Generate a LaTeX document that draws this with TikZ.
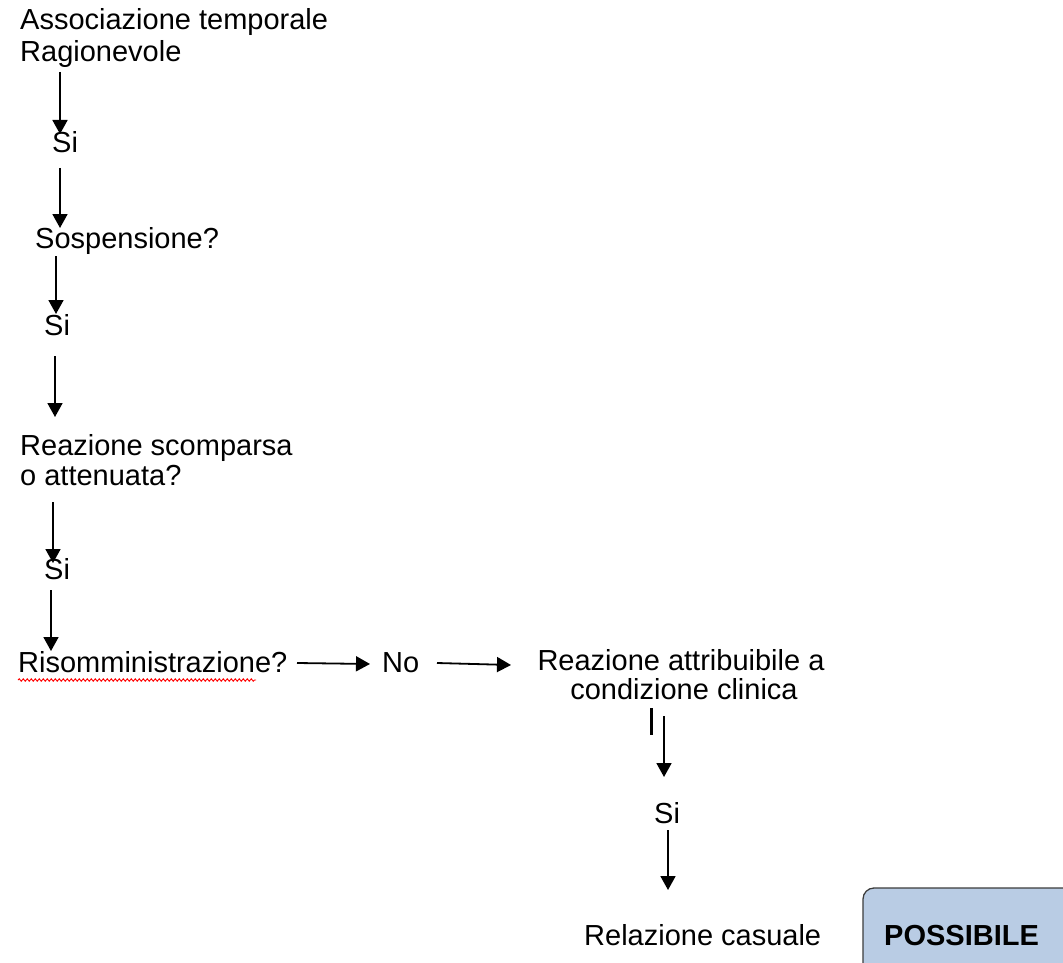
\documentclass[tikz,border=0pt]{standalone}
\usepackage{fontspec}
\setmainfont{Liberation Sans}
\usetikzlibrary{arrows.meta,decorations.pathmorphing}
\definecolor{boxblue}{RGB}{185,204,228}
\definecolor{boxline}{RGB}{60,60,60}
\begin{document}
\begin{tikzpicture}[x=1pt,y=-1pt,
  txt/.style={inner sep=0pt,font=\fontsize{29}{33}\selectfont},
  arr/.style={line width=1.8pt,-{Triangle[width=15pt,length=14pt]}},
  spell/.style={red,line width=0.9pt,decorate,decoration={snake,amplitude=1.2pt,segment length=4pt}}]
\useasboundingbox (0,0) rectangle (1063,963);
% texts
\node[txt,anchor=base west] (assoc1) at (20,30) {Associazione temporale};
\node[txt,anchor=base west] (assoc2) at (20,62) {Ragionevole};
\node[txt,anchor=base west] (si1) at (52,153) {Si};
\node[txt,anchor=base west] (sosp) at (35,248) {Sospensione?};
\node[txt,anchor=base west] (si2) at (44,335) {Si};
\node[txt,anchor=base west] (reaz1) at (20,455) {Reazione scomparsa};
\node[txt,anchor=base west] (reaz2) at (20,485) {o attenuata?};
\node[txt,anchor=base west] (si3) at (44,579) {Si};
\node[txt,anchor=base west] (risom) at (18,672) {Risomministrazione?};
\node[txt,anchor=base west] (no) at (382,672) {No};
\node[txt,anchor=base] (attr1) at (681,670) {Reazione attribuibile a};
\node[txt,anchor=base] (attr2) at (684,699) {condizione clinica};
\node[txt,anchor=base west] (si4) at (654,823) {Si};
\node[txt,anchor=base west] (rel) at (584,945) {Relazione casuale};
% box
\draw[boxline,fill=boxblue,line width=1.3pt,rounded corners=11pt] (863,888) rectangle (1085,985);
\node[txt,anchor=base west,font=\fontsize{29}{33}\selectfont\bfseries] (poss) at (884,945) {POSSIBILE};
% spell-check squiggle
\draw[spell] (18,680) -- (256,680);
% stray bar
\draw[line width=3pt] (651,708) -- (651,735);
% connector end points
\coordinate (a1s) at (60,72);   \coordinate (a1e) at (60,134);
\coordinate (a2s) at (60,168);  \coordinate (a2e) at (60,228);
\coordinate (a3s) at (56,256);  \coordinate (a3e) at (56,314);
\coordinate (a4s) at (55,356);  \coordinate (a4e) at (55,417);
\coordinate (a5s) at (53,502);  \coordinate (a5e) at (53,563);
\coordinate (a6s) at (51,590);  \coordinate (a6e) at (51,651);
\coordinate (a7s) at (297,663); \coordinate (a7e) at (370,664);
\coordinate (a8s) at (437,663); \coordinate (a8e) at (511,665);
\coordinate (a9s) at (664,716); \coordinate (a9e) at (664,777);
\coordinate (a10s) at (668,830); \coordinate (a10e) at (668,890);
\draw[arr] (a1s) -- (a1e);
\draw[arr] (a2s) -- (a2e);
\draw[arr] (a3s) -- (a3e);
\draw[arr] (a4s) -- (a4e);
\draw[arr] (a5s) -- (a5e);
\draw[arr] (a6s) -- (a6e);
\draw[arr] (a7s) -- (a7e);
\draw[arr] (a8s) -- (a8e);
\draw[arr] (a9s) -- (a9e);
\draw[arr] (a10s) -- (a10e);
\end{tikzpicture}
\end{document}
